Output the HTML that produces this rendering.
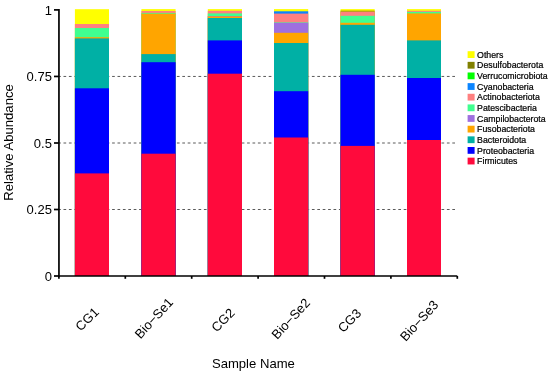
<!DOCTYPE html>
<html lang="en"><head><meta charset="utf-8"><title>Relative Abundance</title>
<style>
html,body{margin:0;padding:0;background:#fff;}
body{width:550px;height:373px;overflow:hidden;}
svg{display:block;will-change:transform;}
text{font-family:"Liberation Sans",sans-serif;fill:#000;}
.tk{font-size:13.0px;}
.ttl{font-size:13.1px;}
.lg{font-size:8.75px;stroke:#000;stroke-width:0.22px;}
</style></head><body>
<svg width="550" height="373" viewBox="0 0 550 373">
<rect x="0" y="0" width="550" height="373" fill="#fff"/>

<g stroke="#5a5a5a" stroke-width="1.0" stroke-dasharray="2.7 2.7" fill="none">
<line x1="58.1" y1="76.45" x2="455.1" y2="76.45"/>
<line x1="58.1" y1="143.0" x2="455.1" y2="143.0"/>
<line x1="58.1" y1="209.5" x2="455.1" y2="209.5"/>
</g>
<g stroke="none">
<rect x="74.9" y="9.2" width="34.1" height="266.8" fill="#FFFF00"/>
<rect x="74.9" y="24.0" width="34.1" height="252.0" fill="#FF8080"/>
<rect x="74.9" y="28.0" width="34.1" height="248.0" fill="#40FF90"/>
<rect x="74.9" y="37.2" width="34.1" height="238.8" fill="#FFA500"/>
<rect x="74.9" y="38.4" width="34.1" height="237.6" fill="#00B0A5"/>
<rect x="74.9" y="88.3" width="34.1" height="187.7" fill="#0000FF"/>
<rect x="74.9" y="173.4" width="34.1" height="102.6" fill="#FF0A3C"/>
<rect x="141.4" y="9.1" width="34.2" height="266.9" fill="#FFFF00"/>
<rect x="141.4" y="11.0" width="34.2" height="265.0" fill="#FF8080"/>
<rect x="141.4" y="12.9" width="34.2" height="263.1" fill="#40FF90"/>
<rect x="141.4" y="13.7" width="34.2" height="262.3" fill="#FFA500"/>
<rect x="141.4" y="54.1" width="34.2" height="221.9" fill="#00B0A5"/>
<rect x="141.4" y="62.2" width="34.2" height="213.8" fill="#0000FF"/>
<rect x="141.4" y="153.7" width="34.2" height="122.3" fill="#FF0A3C"/>
<rect x="207.8" y="9.1" width="34.2" height="266.9" fill="#FFFF00"/>
<rect x="207.8" y="10.8" width="34.2" height="265.2" fill="#FF8080"/>
<rect x="207.8" y="13.4" width="34.2" height="262.6" fill="#40FF90"/>
<rect x="207.8" y="16.0" width="34.2" height="260.0" fill="#9F6FDF"/>
<rect x="207.8" y="16.45" width="34.2" height="259.6" fill="#FFA500"/>
<rect x="207.8" y="18.0" width="34.2" height="258.0" fill="#00B0A5"/>
<rect x="207.8" y="40.4" width="34.2" height="235.6" fill="#0000FF"/>
<rect x="207.8" y="73.7" width="34.2" height="202.3" fill="#FF0A3C"/>
<rect x="274.0" y="9.1" width="34.2" height="266.9" fill="#FFFF00"/>
<rect x="274.0" y="11.3" width="34.2" height="264.7" fill="#0A84FF"/>
<rect x="274.0" y="13.6" width="34.2" height="262.4" fill="#FF8080"/>
<rect x="274.0" y="22.4" width="34.2" height="253.6" fill="#40FF90"/>
<rect x="274.0" y="22.8" width="34.2" height="253.2" fill="#9F6FDF"/>
<rect x="274.0" y="32.8" width="34.2" height="243.2" fill="#FFA500"/>
<rect x="274.0" y="43.0" width="34.2" height="233.0" fill="#00B0A5"/>
<rect x="274.0" y="91.2" width="34.2" height="184.8" fill="#0000FF"/>
<rect x="274.0" y="137.5" width="34.2" height="138.5" fill="#FF0A3C"/>
<rect x="340.5" y="9.1" width="34.2" height="266.9" fill="#FFFF00"/>
<rect x="340.5" y="10.6" width="34.2" height="265.4" fill="#a4a800"/>
<rect x="340.5" y="11.7" width="34.2" height="264.3" fill="#FF8080"/>
<rect x="340.5" y="15.8" width="34.2" height="260.2" fill="#40FF90"/>
<rect x="340.5" y="22.8" width="34.2" height="253.2" fill="#FFA500"/>
<rect x="340.5" y="24.8" width="34.2" height="251.2" fill="#00B0A5"/>
<rect x="340.5" y="74.8" width="34.2" height="201.2" fill="#0000FF"/>
<rect x="340.5" y="145.9" width="34.2" height="130.1" fill="#FF0A3C"/>
<rect x="407.0" y="9.1" width="34.0" height="266.9" fill="#FFFF00"/>
<rect x="407.0" y="10.8" width="34.0" height="265.2" fill="#FF8080"/>
<rect x="407.0" y="11.9" width="34.0" height="264.1" fill="#40FF90"/>
<rect x="407.0" y="13.4" width="34.0" height="262.6" fill="#FFA500"/>
<rect x="407.0" y="40.4" width="34.0" height="235.6" fill="#00B0A5"/>
<rect x="407.0" y="78.0" width="34.0" height="198.0" fill="#0000FF"/>
<rect x="407.0" y="140.0" width="34.0" height="136.0" fill="#FF0A3C"/>
</g>
<g stroke="#000" stroke-width="1.7" fill="none">
<line x1="58.95" y1="9.05" x2="58.95" y2="276.8"/>
<line x1="58.1" y1="276.0" x2="457.3" y2="276.0"/>
</g>
<g stroke="#000" stroke-width="1.7" fill="none">
<line x1="54.0" y1="9.9" x2="58.9" y2="9.9"/>
<line x1="54.0" y1="76.45" x2="58.9" y2="76.45"/>
<line x1="54.0" y1="143.0" x2="58.9" y2="143.0"/>
<line x1="54.0" y1="209.5" x2="58.9" y2="209.5"/>
<line x1="54.0" y1="276.0" x2="58.9" y2="276.0"/>
<line x1="58.9" y1="276" x2="58.9" y2="278.8"/>
<line x1="125.3" y1="276" x2="125.3" y2="278.8"/>
<line x1="191.7" y1="276" x2="191.7" y2="278.8"/>
<line x1="258.1" y1="276" x2="258.1" y2="278.8"/>
<line x1="324.5" y1="276" x2="324.5" y2="278.8"/>
<line x1="390.9" y1="276" x2="390.9" y2="278.8"/>
<line x1="457.3" y1="276" x2="457.3" y2="278.8"/>
</g>
<text class="tk" x="51.9" y="14.5" text-anchor="end">1</text>
<text class="tk" x="51.9" y="81.0" text-anchor="end">0.75</text>
<text class="tk" x="51.9" y="147.6" text-anchor="end">0.5</text>
<text class="tk" x="51.9" y="214.1" text-anchor="end">0.25</text>
<text class="tk" x="51.9" y="280.6" text-anchor="end">0</text>
<text class="ttl" transform="translate(12.7,142.5) rotate(-90)" text-anchor="middle">Relative Abundance</text>
<text class="tk" transform="translate(87.0,319.0) rotate(-45)" text-anchor="middle" dy="4.65">CG1</text>
<text class="tk" transform="translate(153.8,318.0) rotate(-47.5)" text-anchor="middle" dy="4.65">Bio−Se1</text>
<text class="tk" transform="translate(222.8,319.9) rotate(-45)" text-anchor="middle" dy="4.65">CG2</text>
<text class="tk" transform="translate(290.6,318.6) rotate(-47.5)" text-anchor="middle" dy="4.65">Bio−Se2</text>
<text class="tk" transform="translate(349.3,320.4) rotate(-45)" text-anchor="middle" dy="4.65">CG3</text>
<text class="tk" transform="translate(419.0,320.6) rotate(-47.5)" text-anchor="middle" dy="4.65">Bio−Se3</text>
<text class="ttl" x="253.4" y="367.6" text-anchor="middle">Sample Name</text>
<rect x="467.6" y="51.20" width="7.0" height="6.8" fill="#FFFF00"/>
<text class="lg" x="477.1" y="57.75">Others</text>
<rect x="467.6" y="61.85" width="7.0" height="6.8" fill="#808000"/>
<text class="lg" x="477.1" y="68.40">Desulfobacterota</text>
<rect x="467.6" y="72.49" width="7.0" height="6.8" fill="#00FF00"/>
<text class="lg" x="477.1" y="79.04">Verrucomicrobiota</text>
<rect x="467.6" y="83.13" width="7.0" height="6.8" fill="#0A84FF"/>
<text class="lg" x="477.1" y="89.69">Cyanobacteria</text>
<rect x="467.6" y="93.78" width="7.0" height="6.8" fill="#FF8080"/>
<text class="lg" x="477.1" y="100.33">Actinobacteriota</text>
<rect x="467.6" y="104.42" width="7.0" height="6.8" fill="#40FF90"/>
<text class="lg" x="477.1" y="110.97">Patescibacteria</text>
<rect x="467.6" y="115.07" width="7.0" height="6.8" fill="#9F6FDF"/>
<text class="lg" x="477.1" y="121.62">Campilobacterota</text>
<rect x="467.6" y="125.72" width="7.0" height="6.8" fill="#FFA500"/>
<text class="lg" x="477.1" y="132.27">Fusobacteriota</text>
<rect x="467.6" y="136.36" width="7.0" height="6.8" fill="#00B0A5"/>
<text class="lg" x="477.1" y="142.91">Bacteroidota</text>
<rect x="467.6" y="147.00" width="7.0" height="6.8" fill="#0000FF"/>
<text class="lg" x="477.1" y="153.56">Proteobacteria</text>
<rect x="467.6" y="157.65" width="7.0" height="6.8" fill="#FF0A3C"/>
<text class="lg" x="477.1" y="164.20">Firmicutes</text>
</svg></body></html>
